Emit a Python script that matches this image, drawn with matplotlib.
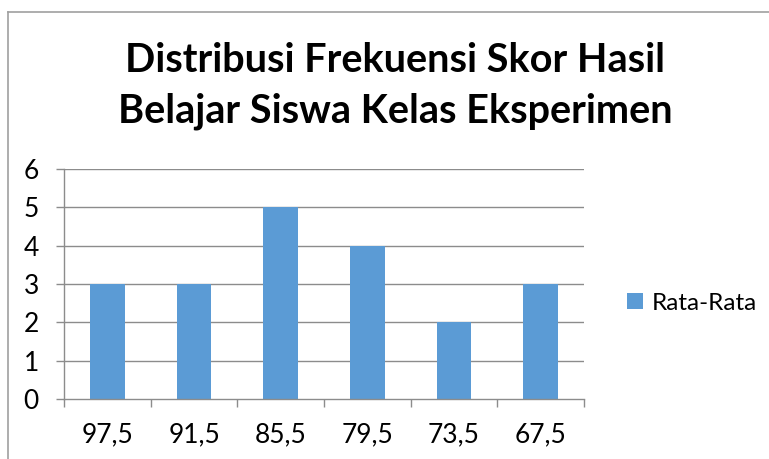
import matplotlib
matplotlib.use("Agg")
import matplotlib.pyplot as plt
from matplotlib.lines import Line2D

categories = ["97,5", "91,5", "85,5", "79,5", "73,5", "67,5"]
values = [3, 3, 5, 4, 2, 3]
series_name = "Rata-Rata"
title = "Distribusi Frekuensi Skor Hasil\nBelajar Siswa Kelas Eksperimen"
yticks = [0, 1, 2, 3, 4, 5, 6]

plt.rcParams['font.family'] = ['Lato', 'DejaVu Sans']

W, H = 769, 459
fig = plt.figure(figsize=(W / 100, H / 100), dpi=100)
fig.patch.set_facecolor("white")

ax = fig.add_axes([64 / W, (H - 399) / H, 520 / W, 230 / H])
x = list(range(len(categories)))
bars = ax.bar(x, values, width=0.4, color="#5B9BD5", label=series_name, zorder=3)

ax.set_xlim(-0.5, len(categories) - 0.5)
ax.set_ylim(0, 6)
ax.set_yticks(yticks)
ax.set_yticklabels([str(t) for t in yticks])
grid_c = "#8C8C8C"
for t in yticks[1:]:
    ax.axhline(t, color=grid_c, lw=1.0, zorder=1)

ax.set_xticks(x)
ax.set_xticklabels(categories)
ax.set_xticks([i - 0.5 for i in range(len(categories) + 1)], minor=True)
ax.tick_params(axis="x", which="major", length=0, pad=17, labelsize=19, colors="black")
ax.tick_params(axis="x", which="minor", length=6, width=1.0, color=grid_c, direction="out")
ax.tick_params(axis="y", length=6, width=1.0, color=grid_c, pad=12, labelsize=19, labelcolor="black")

for s in ["top", "right"]:
    ax.spines[s].set_visible(False)
ax.spines["left"].set_color(grid_c)
ax.spines["bottom"].set_color(grid_c)
ax.spines["left"].set_linewidth(1.0)
ax.spines["bottom"].set_linewidth(1.0)
ax.spines["bottom"].set_zorder(4)

fig.text(395 / W, 1 - 86 / H, title, ha="center", va="center", fontsize=28.5,
         fontweight="bold", linespacing=1.45, color="black")

leg = fig.legend(handles=[bars], labels=[series_name], loc="center left",
                 bbox_to_anchor=(627 / W, 1 - 303 / H), frameon=False, fontsize=17.5,
                 handlelength=0.65, handleheight=0.65, handletextpad=0.35,
                 borderaxespad=0, borderpad=0)

border_c = "#A0A0A0"
fig.add_artist(Line2D([7.5 / W, 1], [1 - 12 / H, 1 - 12 / H], color=border_c, lw=1.2,
                      transform=fig.transFigure))
fig.add_artist(Line2D([7.5 / W, 7.5 / W], [0, 1 - 12 / H], color=border_c, lw=1.2,
                      transform=fig.transFigure))

fig.savefig("out.png", dpi=100)
